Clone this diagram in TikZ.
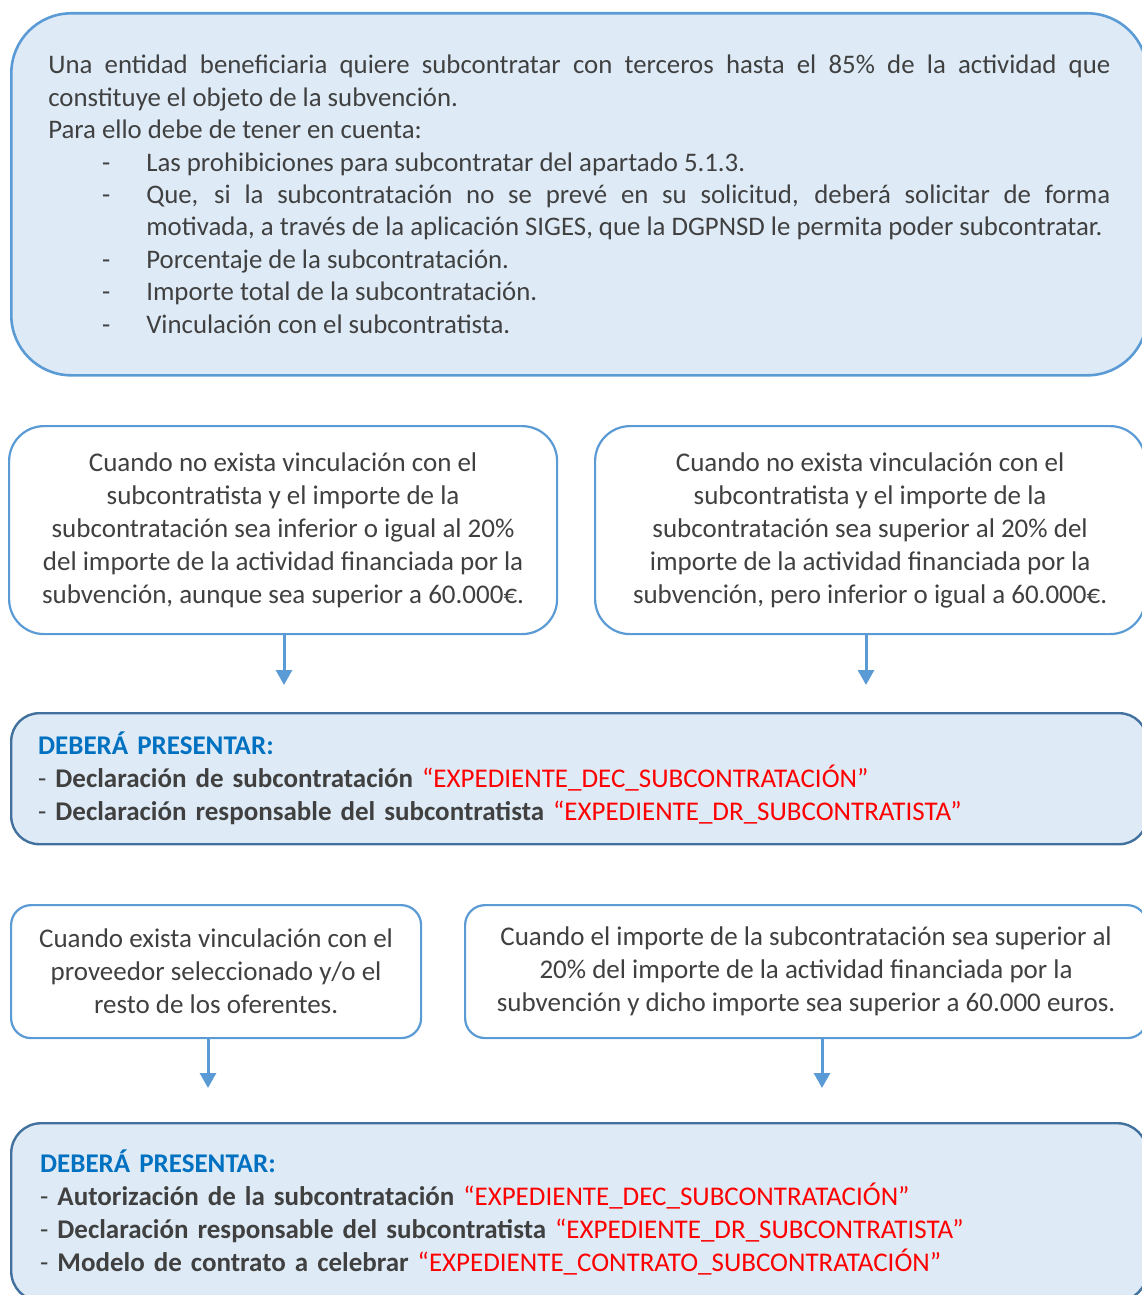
\documentclass[tikz,border=0pt]{standalone}
\usepackage{fontspec}
\setmainfont{Carlito}
\usepackage{xcolor}
\usetikzlibrary{arrows.meta,positioning}

\begin{document}
\begin{tikzpicture}[x=1pt,y=-1pt,
  txt/.style={text=txtgray,font=\fontsize{27pt}{33pt}\selectfont,inner sep=0pt},
  introbox/.style={txt,draw=lineblue,fill=boxfill,line width=2.6pt,rounded corners=60pt},
  condbox/.style={txt,draw=lineblue,fill=white,line width=2.2pt,align=center},
  needbox/.style={txt,draw=darkline,fill=boxfill,line width=2.4pt,rounded corners=28pt,align=left},
  flow/.style={draw=lineblue,line width=3pt,-{Triangle[length=15pt,width=16pt]}}]
\definecolor{lineblue}{HTML}{5B9BD5}
\definecolor{darkline}{HTML}{41719C}
\definecolor{boxfill}{HTML}{DEEBF7}
\definecolor{headblue}{HTML}{0070C0}
\definecolor{txtgray}{HTML}{404040}
\definecolor{redtxt}{HTML}{FF0000}
\useasboundingbox (0,0) rectangle (1142,1295);

% starting point
\node[introbox,anchor=north west,minimum width=1136pt,minimum height=362pt,
  text width=1062pt,align=justify,font=\fontsize{26.8pt}{32.4pt}\selectfont] (intro) at (10,12) {%
Una entidad beneficiaria quiere subcontratar con terceros hasta el 85\% de la actividad que\linebreak
constituye el objeto de la subvención.\par
Para ello debe de tener en cuenta:\par
{\leftskip=98pt\noindent\llap{-\hspace{36pt}}Las prohibiciones para subcontratar del apartado 5.1.3.\par}
{\leftskip=98pt\noindent\llap{-\hspace{36pt}}Que, si la subcontratación no se prevé en su solicitud, deberá solicitar de forma\linebreak
motivada, a través de la aplicación SIGES, que la DGPNSD le permita poder subcontratar.\par}
{\leftskip=98pt\noindent\llap{-\hspace{36pt}}Porcentaje de la subcontratación.\par}
{\leftskip=98pt\noindent\llap{-\hspace{36pt}}Importe total de la subcontratación.\par}
{\leftskip=98pt\noindent\llap{-\hspace{36pt}}Vinculación con el subcontratista.\par}};

% first pair of cases
\node[condbox,rounded corners=35pt,anchor=north west,minimum width=548pt,minimum height=208pt] (lowpct) at (8,425) {%
Cuando no exista vinculación con el\\
subcontratista y el importe de la\\
subcontratación sea inferior o igual al 20\%\\
del importe de la actividad financiada por la\\
subvención, aunque sea superior a 60.000€.};
\node[condbox,rounded corners=35pt,anchor=north west,minimum width=550pt,minimum height=208pt] (highpct) at (594,425) {%
Cuando no exista vinculación con el\\
subcontratista y el importe de la\\
subcontratación sea superior al 20\% del\\
importe de la actividad financiada por la\\
subvención, pero inferior o igual a 60.000€.};

\coordinate (tipa) at (284,685);
\coordinate (tipb) at (866,685);
\draw[flow] (lowpct.south -| tipa) -- (tipa);
\draw[flow] (highpct.south -| tipb) -- (tipb);

\node[needbox,anchor=north west,minimum width=1136pt,minimum height=131pt,text width=1082pt] (needa) at (10,712) {%
\textcolor{headblue}{\textbf{DEBERÁ PRESENTAR:}}\\
- \textbf{Declaración de subcontratación} \textcolor{redtxt}{“EXPEDIENTE\_DEC\_SUBCONTRATACIÓN”}\\
- \textbf{Declaración responsable del subcontratista} \textcolor{redtxt}{“EXPEDIENTE\_DR\_SUBCONTRATISTA”}};

% second pair of cases
\node[condbox,rounded corners=20pt,anchor=north west,minimum width=410pt,minimum height=133pt] (linked) at (10,904) {%
Cuando exista vinculación con el\\
proveedor seleccionado y/o el\\
resto de los oferentes.};
\node[condbox,rounded corners=20pt,anchor=north west,minimum width=682pt,minimum height=133pt] (over) at (464,904) {%
Cuando el importe de la subcontratación sea superior al\\
20\% del importe de la actividad financiada por la\\
subvención y dicho importe sea superior a 60.000 euros.};

\coordinate (tipc) at (208,1088);
\coordinate (tipd) at (822,1088);
\draw[flow] (linked.south -| tipc) -- (tipc);
\draw[flow] (over.south -| tipd) -- (tipd);

\node[needbox,rounded corners=30pt,anchor=north west,minimum width=1136pt,minimum height=178pt,text width=1078pt] (needb) at (10,1122) {%
\textcolor{headblue}{\textbf{DEBERÁ PRESENTAR:}}\\
- \textbf{Autorización de la subcontratación} \textcolor{redtxt}{“EXPEDIENTE\_DEC\_SUBCONTRATACIÓN”}\\
- \textbf{Declaración responsable del subcontratista} \textcolor{redtxt}{“EXPEDIENTE\_DR\_SUBCONTRATISTA”}\\
- \textbf{Modelo de contrato a celebrar} \textcolor{redtxt}{“EXPEDIENTE\_CONTRATO\_SUBCONTRATACIÓN”}};
\end{tikzpicture}
\end{document}
